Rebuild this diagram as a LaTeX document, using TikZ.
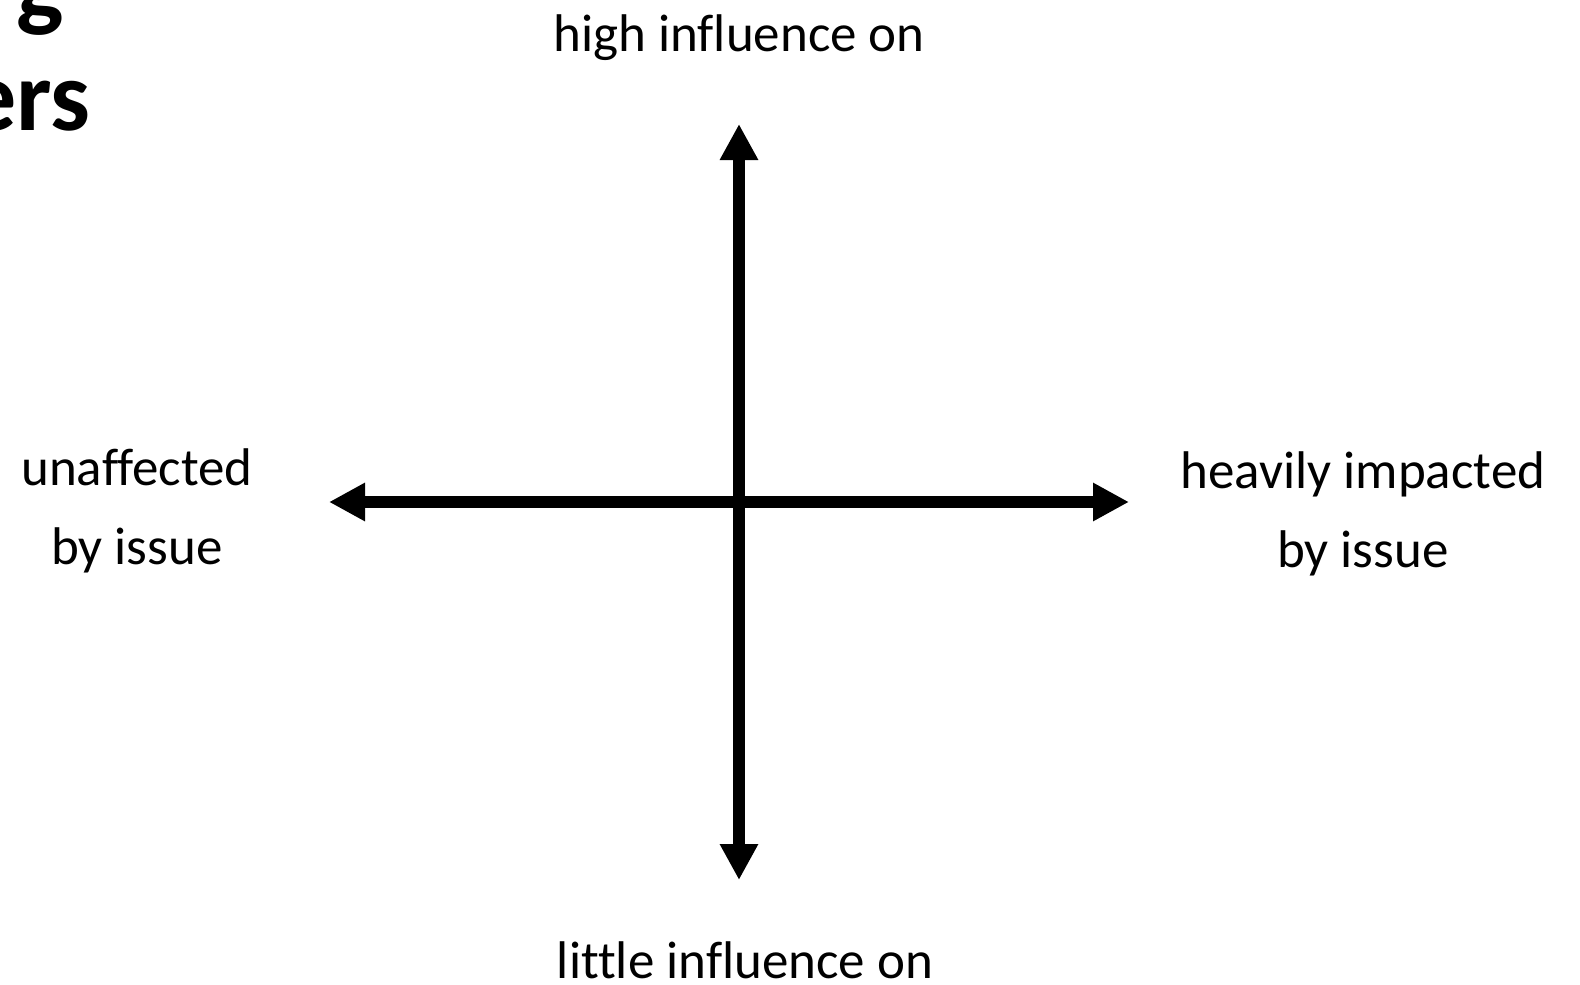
\documentclass[tikz,border=0pt]{standalone}
\usepackage{fontspec}
\setmainfont{Carlito}[Ligatures=NoCommon]
\usepackage{tikz}
\usetikzlibrary{arrows.meta,positioning}

\begin{document}
\begin{tikzpicture}[x=1pt,y=-1pt,>={Triangle[width=36pt,length=36pt]},
  axis/.style={line width=11.5pt,<->},
  lbl/.style={font=\fontsize{53}{79}\selectfont,align=center,inner sep=0pt},
  ttl/.style={font=\fontsize{100}{120}\selectfont\bfseries,inner sep=0pt,anchor=base east}]
  \useasboundingbox (0,0) rectangle (1580,985);
  % title, cut off at the page edge
  \node[ttl] (ttlA) at (64,19) {g};
  \node[ttl] (ttlB) at (91,130) {ers};
  % axes
  \coordinate (hi) at (739,124);
  \coordinate (lo) at (739,880);
  \coordinate (ua) at (329,502);
  \coordinate (hv) at (1129,502);
  \draw[axis] (lo) -- (hi);
  \draw[axis] (ua) -- (hv);
  % axis labels
  \node[lbl,anchor=base] (high) at (739,51) {high influence on};
  \node[lbl,anchor=base] (little) at (745,978) {little influence on};
  \node[lbl,anchor=base] (unaff) at (137,564) {unaffected\\by issue};
  \node[lbl,anchor=base] (heavy) at (1363,567) {heavily impacted\\by issue};
\end{tikzpicture}
\end{document}
